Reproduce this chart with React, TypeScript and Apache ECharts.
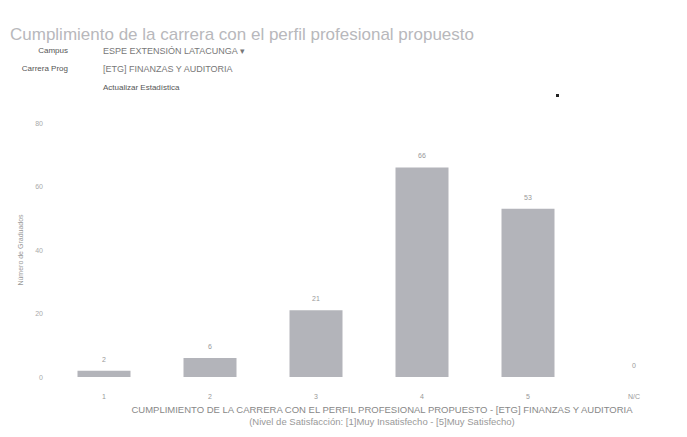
import React, { useEffect, useRef } from "react";
import * as echarts from "echarts";

const categories = ["1", "2", "3", "4", "5", "N/C"];
const values = [2, 6, 21, 66, 53, 0];
const yTicks = { min: 0, max: 80, interval: 20 };
const titleText = "Cumplimiento de la carrera con el perfil profesional propuesto";
const campusLabel = "Campus";
const campusValue = "ESPE EXTENSIÓN LATACUNGA ▾";
const carreraLabel = "Carrera Prog";
const carreraValue = "[ETG] FINANZAS Y AUDITORIA";
const actualizar = "Actualizar Estadística";
const xName1 = "CUMPLIMIENTO DE LA CARRERA CON EL PERFIL PROFESIONAL PROPUESTO - [ETG] FINANZAS Y AUDITORIA";
const xName2 = "(Nivel de Satisfacción: [1]Muy Insatisfecho - [5]Muy Satisfecho)";
const yName = "Número de Graduados";

export default function App() {
  const ref = useRef<HTMLDivElement>(null);
  useEffect(() => {
    if (!ref.current) return;
    const chart = echarts.init(ref.current, null, { renderer: "svg" });
    chart.setOption({
      animation: false,
      backgroundColor: "#ffffff",
      textStyle: { fontFamily: "Liberation Sans, Arial, sans-serif" },
      graphic: [
        { type: "text", x: 10, y: 26, style: { text: titleText, fontSize: 17, fill: "#b8b8bc", fontFamily: "Liberation Sans, Arial" } },
        { type: "text", x: 68, y: 46, style: { text: campusLabel, fontSize: 8, fill: "#555", textAlign: "right" } },
        { type: "text", x: 103, y: 46, style: { text: campusValue, fontSize: 9, fill: "#777", fontFamily: "Liberation Sans, Arial" } },
        { type: "text", x: 68, y: 64, style: { text: carreraLabel, fontSize: 8, fill: "#555", textAlign: "right" } },
        { type: "text", x: 103, y: 64, style: { text: carreraValue, fontSize: 9, fill: "#777" } },
        { type: "text", x: 103, y: 83, style: { text: actualizar, fontSize: 8, fill: "#555" } },
        { type: "rect", shape: { x: 556, y: 94, width: 3, height: 3 }, style: { fill: "#222" } },
        { type: "text", x: 382, y: 404, style: { text: xName1, fontSize: 9.5, fill: "#888", textAlign: "center" } },
        { type: "text", x: 382, y: 416, style: { text: xName2, fontSize: 9.5, fill: "#999", textAlign: "center" } },
      ],
      grid: { left: 51, right: -33, top: 123, bottom: 60 },
      xAxis: {
        type: "category",
        data: categories,
        axisLine: { show: false },
        axisTick: { show: false },
        axisLabel: { color: "#999", fontSize: 7, margin: 16 },
      },
      yAxis: {
        type: "value",
        min: yTicks.min,
        max: yTicks.max,
        interval: yTicks.interval,
        name: yName,
        nameLocation: "middle",
        nameGap: 14,
        nameTextStyle: { color: "#999", fontSize: 7 },
        axisLine: { show: false },
        axisTick: { show: false },
        splitLine: { show: false },
        axisLabel: { color: "#aaa", fontSize: 7, margin: 8 },
      },
      series: [
        {
          type: "bar",
          data: values,
          barWidth: 53,
          itemStyle: { color: "#b3b4ba" },
          label: { show: true, position: "top", color: "#999", fontSize: 7, distance: 8 },
        },
      ],
    });
    return () => chart.dispose();
  }, []);
  return <div ref={ref} style={{ width: 687, height: 437, position: "absolute", left: 0, top: 0 }} />;
}
